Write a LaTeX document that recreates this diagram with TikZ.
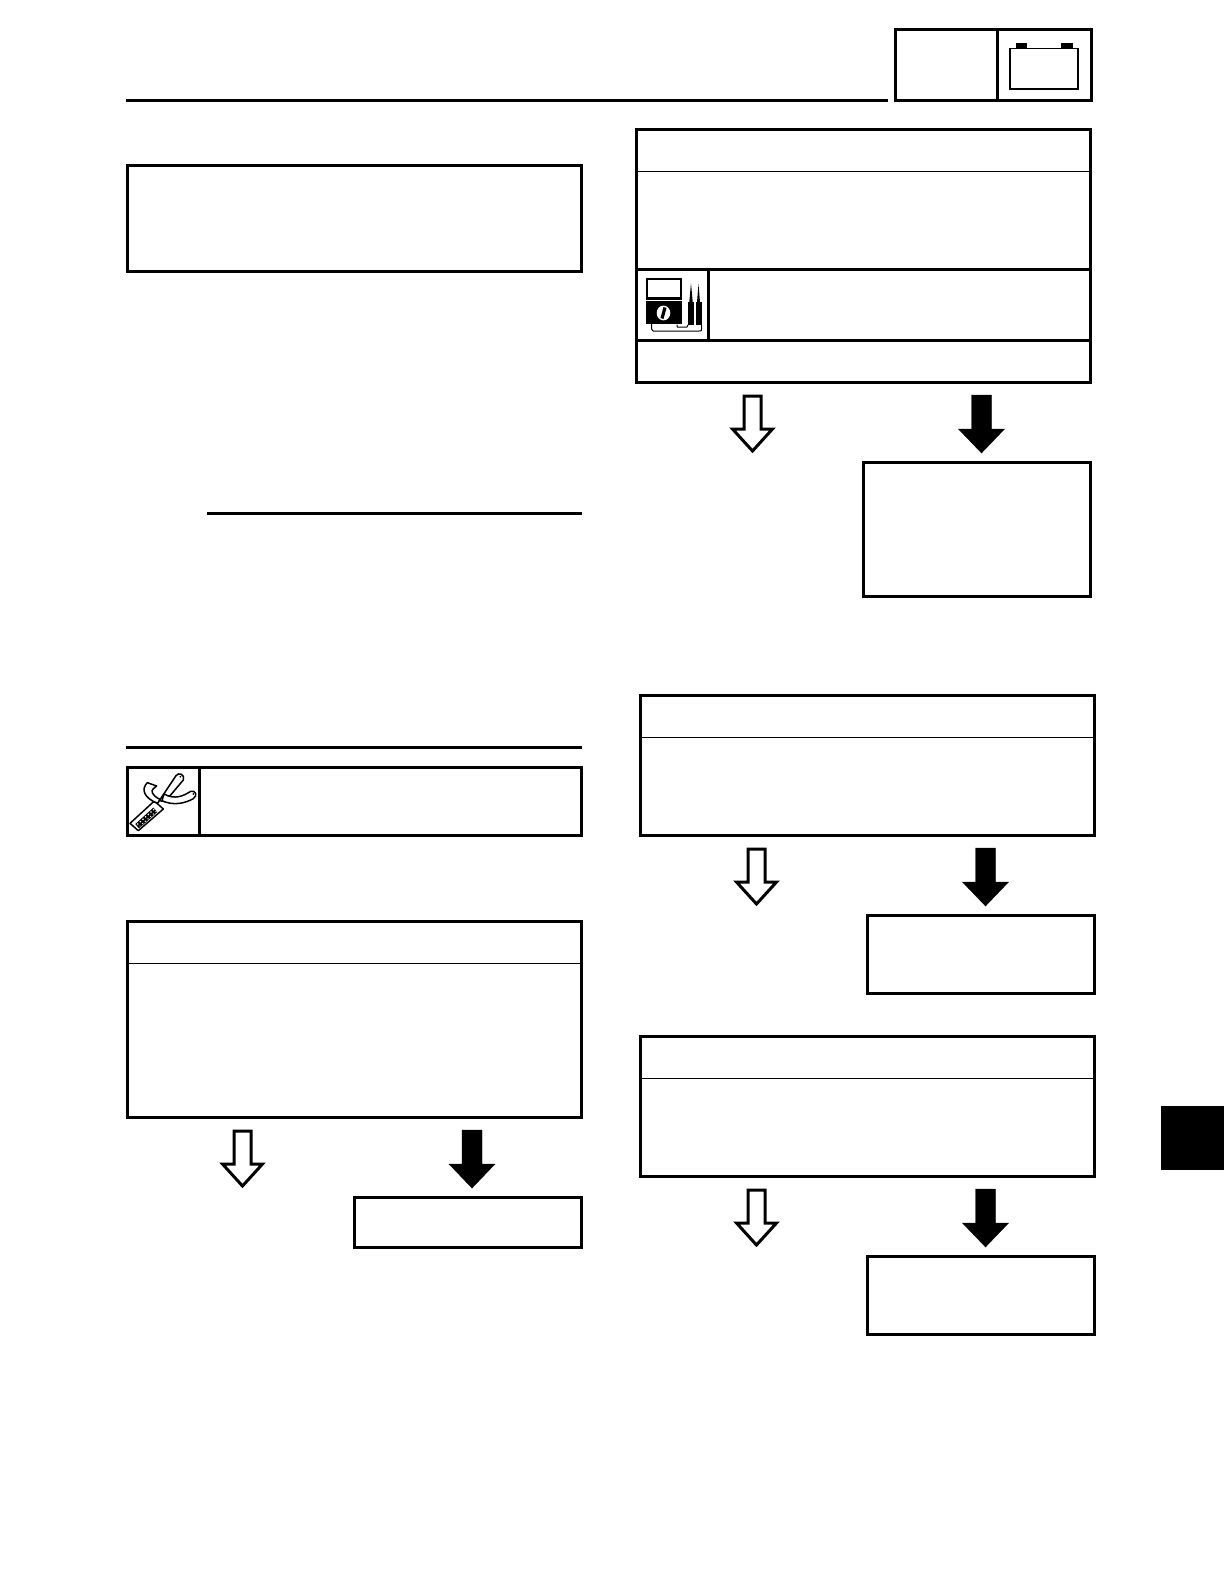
\documentclass[tikz,border=0pt]{standalone}
\tikzset{
  x=0.5pt,y=-0.5pt,
  heavy/.style={draw=black,line width=1.5pt,line join=miter},
  thin rule/.style={draw=black,line width=0.5pt},
  icon/.style={draw=black,line width=0.75pt,line join=round,line cap=round},
  emptyarrow/.style={draw=black,fill=white,line width=1.5pt,line join=miter},
  solidarrow/.style={draw=black,fill=black,line width=0.2pt,line join=miter},
}
\newcommand{\downshape}[2]{(#1-8.5,#2) -- (#1+8.5,#2) -- (#1+8.5,#2+33) -- (#1+20,#2+33) -- (#1,#2+55) -- (#1-20,#2+33) -- (#1-8.5,#2+33) -- cycle}
\newcommand{\solidshape}[2]{(#1-10,#2-1) -- (#1+10,#2-1) -- (#1+10,#2+33) -- (#1+23,#2+33) -- (#1,#2+57) -- (#1-23,#2+33) -- (#1-10,#2+33) -- cycle}
\begin{document}
\begin{tikzpicture}
\useasboundingbox (0,0) rectangle (1224,1584);
\fill[white] (0,0) rectangle (1224,1584);

% header
\draw[heavy] (126,100.5) -- (888,100.5);
\draw[heavy] (895.5,29.5) rectangle (1091,100.5);
\draw[heavy] (997.5,29.5) -- (997.5,100.5);
\draw[draw=black,line width=0.9pt] (1010,48.5) rectangle (1078,89);
\fill[black] (1016,43) rectangle (1027,48);
\fill[black] (1061,43) rectangle (1073,48);

% left column
\draw[heavy] (127,165) rectangle (581,271.5);
\draw[heavy] (207,513) -- (582,513);
\draw[heavy] (126,747) -- (582,747);

% tool box
\draw[heavy] (127,767) rectangle (581,835);
\draw[heavy] (199.5,767) -- (199.5,835);
\begin{scope}[shift={(120,760)},x=0.16667pt,y=-0.16667pt]
  \draw[icon,fill=white] (30,190) -- (103,123) -- (130,147) -- (55,212) -- cycle;
  \fill[black] (46,192) -- (100,143) -- (112,156) -- (57,205) -- cycle;
  \foreach \t in {0,1,...,6}{
    \fill[white] ({53+\t*8},{192-\t*7.2}) circle (2.6);
    \fill[white] ({60+\t*8},{198-\t*7.2}) circle (2.2);
  }
  \draw[icon,fill=white] (118,122) -- (168,47) .. controls (176,36) and (195,42) .. (190,60) -- (135,125) -- cycle;
  \fill[black] (181,50) circle (3);
  \draw[icon,fill=white] (82,68) -- (110,78) -- (100,86) .. controls (92,92) and (95,106) .. (120,118) -- (113,130) .. controls (72,114) and (62,88) .. (82,68) -- cycle;
  \draw[icon,fill=white] (132,102) .. controls (165,120) and (190,108) .. (212,94) .. controls (225,90) and (235,105) .. (220,116) .. controls (195,130) and (160,138) .. (126,122) -- cycle;
  \fill[black] (220,102) circle (3);
\end{scope}

% left decision box
\draw[heavy] (127,921) rectangle (581,1117);
\draw[thin rule] (127,963) -- (581,963);
\filldraw[emptyarrow] \downshape{242.5}{1131};
\filldraw[solidarrow] \solidshape{472}{1131};
\draw[heavy] (354.5,1197) rectangle (581,1247);

% right top
\draw[heavy] (636.5,129.5) rectangle (1090,382.5);
\draw[thin rule] (636.5,171.5) -- (1090,171.5);
\draw[heavy] (636.5,269.5) -- (1090,269.5);
\draw[heavy] (636.5,340.5) -- (1090,340.5);
\draw[heavy] (708.5,269.5) -- (708.5,340.5);
% meter icon
\draw[draw=black,line width=1.1pt] (647,279) rectangle (681,298.5);
\fill[black] (646,301) rectangle (682,323.5);
\fill[white] (663.5,313) ellipse (6.8 and 7.4);
\draw[black,line width=1.6pt] (662,318.5) -- (665,307.5);
\fill[black] (688,302) rectangle (694,325);
\fill[black] (695.5,302) rectangle (701.5,325);
\fill[black] (689.3,302) -- (691,283) -- (692.7,302) -- cycle;
\fill[black] (697,302) -- (698.5,284) -- (700,302) -- cycle;
\draw[icon,line width=0.5pt] (651.5,323) -- (651.5,329) .. controls (651.5,330.5) .. (653,331) -- (699,331) .. controls (701.5,331) .. (701.5,329) -- (701.5,325);
\draw[icon,line width=0.5pt] (677,325) -- (677,327) -- (687,327) -- (688,325);

\filldraw[emptyarrow] \downshape{752.5}{396};
\filldraw[solidarrow] \solidshape{981.5}{396};
\draw[heavy] (863.5,462.5) rectangle (1090,596);

% right middle
\draw[heavy] (640.5,695) rectangle (1094,835);
\draw[thin rule] (640.5,737) -- (1094,737);
\filldraw[emptyarrow] \downshape{756.5}{849};
\filldraw[solidarrow] \solidshape{985.5}{849};
\draw[heavy] (867.5,915) rectangle (1094,993.5);

% right lower
\draw[heavy] (640.5,1036) rectangle (1094,1176);
\draw[thin rule] (640.5,1078.5) -- (1094,1078.5);
\filldraw[emptyarrow] \downshape{756.5}{1190};
\filldraw[solidarrow] \solidshape{985.5}{1190};
\draw[heavy] (867.5,1256.5) rectangle (1094,1334);

% tab
\fill[black] (1161,1106) rectangle (1224,1170);
\end{tikzpicture}
\end{document}
